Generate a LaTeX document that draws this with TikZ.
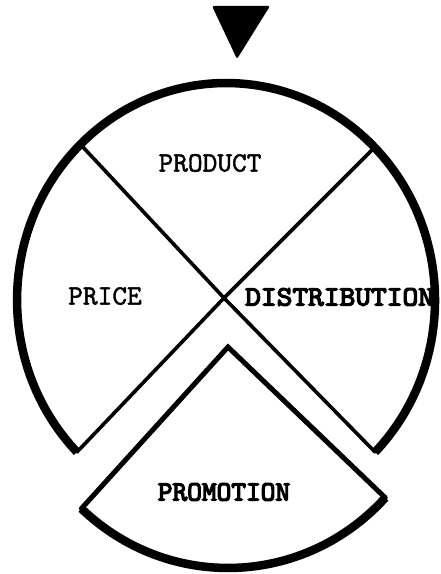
\documentclass[tikz,border=0pt]{standalone}
\usepackage{fontspec}
\newfontfamily\ttmed{lmmono10-regular.otf}[FakeBold=1.5]
\newfontfamily\ttheavy{lmmono10-regular.otf}[FakeBold=4.5]
\begin{document}
\begin{tikzpicture}[x=1pt,y=1pt,
  rim/.style={line width=8.5pt,line cap=butt},
  spoke/.style={line width=3.6pt,line cap=round},
  wedgeedge/.style={line width=5pt,line join=miter,line cap=round},
  lbl/.style={font=\ttmed\fontsize{28}{28}\selectfont,inner sep=0pt},
  lblb/.style={font=\ttheavy\fontsize{28}{28}\selectfont,inner sep=0pt}]
\useasboundingbox (0,0) rectangle (441,574);
% pointer triangle
\fill[rounded corners=2pt] (212,568) -- (270,568) -- (237,515) -- cycle;
% key points
\coordinate (C) at (226,274);
\coordinate (X) at (224,276);
\coordinate (UL) at (81,429);
\coordinate (UR) at (372,424);
\coordinate (LL) at (76.9,121.9);
\coordinate (LR) at (375.1,121.9);
\coordinate (A) at (228,227);
\coordinate (WL) at (81.4,65.4);
\coordinate (WR) at (385.2,76.3);
% labels
\node[lbl] (product) at (210,411) {PRODUCT};
\node[lbl] (price) at (105,278) {PRICE};
\node[lblb,anchor=west,xscale=1.07] (distribution) at (245,277) {DISTRIBUTION};
\node[lblb] (promotion) at (224,82) {PROMOTION};
% spokes
\draw[spoke] (UL) -- (X) -- (LR);
\draw[spoke] (UR) -- (X) -- (LL);
% main rim
\draw[rim] (LR) arc[start angle=-44.5,end angle=224.5,x radius=209,y radius=217];
% promotion wedge
\draw[wedgeedge] (WL) -- (A) -- (WR);
\draw[rim] (WL) arc[start angle=227,end angle=317,x radius=215,y radius=221];
\end{tikzpicture}
\end{document}
